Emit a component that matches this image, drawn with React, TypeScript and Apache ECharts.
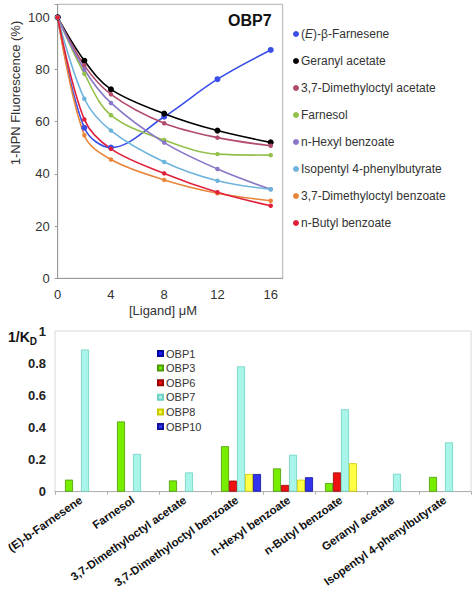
import React, { useEffect, useRef } from "react";
import * as echarts from "echarts";

const ligandX = [0, 2, 4, 8, 12, 16];
const farnesene = [100, 57.7, 50.1, 61.9, 76.3, 87.5];
const geranylAcetate = [100, 83.4, 72.4, 63.1, 56.6, 52.1];
const dmoAcetate = [100, 81.6, 70.5, 59.4, 53.9, 50.8];
const farnesol = [100, 78.4, 62.5, 53.0, 47.6, 47.2];
const hexylBenzoate = [100, 80.0, 67.2, 52.0, 41.9, 34.1];
const isopentyl = [100, 68.8, 56.6, 44.6, 37.4, 34.1];
const dmoBenzoate = [100, 54.8, 45.5, 37.7, 32.6, 29.7];
const butylBenzoate = [100, 60.9, 49.6, 40.2, 33.0, 27.8];

const ligands = [
  "(E)-b-Farnesene",
  "Farnesol",
  "3,7-Dimethyloctyl acetate",
  "3,7-Dimethyloctyl benzoate",
  "n-Hexyl benzoate",
  "n-Butyl benzoate",
  "Geranyl acetate",
  "Isopentyl 4-phenylbutyrate",
];
const obp1 = [null, null, null, null, null, null, null, null];
const obp3 = [0.075, 0.437, 0.07, 0.283, 0.145, 0.054, null, 0.092];
const obp6 = [null, null, null, 0.069, 0.042, 0.12, null, null];
const obp7 = [0.885, 0.235, 0.12, 0.78, 0.23, 0.513, 0.112, 0.307];
const obp8 = [null, null, null, 0.11, 0.075, 0.177, null, null];
const obp10 = [null, null, null, 0.11, 0.09, null, null, null];

const FONT = "'Liberation Sans', Arial, sans-serif";

export default function App() {
  const ref = useRef<HTMLDivElement>(null);
  useEffect(() => {
    if (!ref.current) return;
    const chart = echarts.init(ref.current, null, { renderer: "svg" });
    const lineDefs = [
      { name: "(E)-β-Farnesene", data: farnesene, color: "#3a4fe8", size: 6 },
      { name: "Geranyl acetate", data: geranylAcetate, color: "#000000", size: 6 },
      { name: "3,7-Dimethyloctyl acetate", data: dmoAcetate, color: "#b24a6a", size: 4.5 },
      { name: "Farnesol", data: farnesol, color: "#92c04a", size: 4.5 },
      { name: "n-Hexyl benzoate", data: hexylBenzoate, color: "#8a76c8", size: 4.5 },
      { name: "Isopentyl 4-phenylbutyrate", data: isopentyl, color: "#6cb4dc", size: 4.5 },
      { name: "3,7-Dimethyloctyl benzoate", data: dmoBenzoate, color: "#e8853a", size: 4.5 },
      { name: "n-Butyl benzoate", data: butylBenzoate, color: "#e0203a", size: 4.5 },
    ];
    const barDefs = [
      { name: "OBP1", data: obp1, color: "#1a1aff", border: "#0000a0" },
      { name: "OBP3", data: obp3, color: "#77ee00", border: "#4a9a00" },
      { name: "OBP6", data: obp6, color: "#ee1111", border: "#990000" },
      { name: "OBP7", data: obp7, color: "#aaf5ea", border: "#6fd0c0" },
      { name: "OBP8", data: obp8, color: "#ffff44", border: "#c8c800" },
      { name: "OBP10", data: obp10, color: "#3333ee", border: "#10109a" },
    ];
    const option: any = {
      animation: false,
      textStyle: { fontFamily: FONT },
      grid: [
        { left: 57.7, top: 4.3, width: 225, height: 274, show: true, borderColor: "#b0b0b0", borderWidth: 1 },
        { left: 55, top: 331, width: 416, height: 160.7, show: true, borderColor: "#d8d8d8", borderWidth: 1 },
      ],
      xAxis: [
        {
          type: "value", gridIndex: 0, min: 0, max: 16.9, interval: 4,
          splitLine: { show: false },
          axisLine: { lineStyle: { color: "#999" } },
          axisTick: { show: false },
          axisLabel: {
            color: "#333", fontSize: 13, fontFamily: FONT, margin: 10,
            formatter: (v: number) => (v % 4 === 0 ? String(v) : ""),
          },
        },
        {
          type: "category", gridIndex: 1, data: ligands,
          axisLine: { lineStyle: { color: "#b0b0b0" } },
          axisTick: { show: true, length: 3, lineStyle: { color: "#b0b0b0" } },
          axisLabel: {
            rotate: 35, interval: 0, color: "#111", fontSize: 11.5, fontWeight: "bold",
            fontFamily: FONT, margin: 7,
          },
        },
      ],
      yAxis: [
        {
          type: "value", gridIndex: 0, min: 0, max: 105, interval: 20,
          splitLine: { show: false },
          axisLine: { show: true, lineStyle: { color: "#999" } },
          axisTick: { show: true, length: 3, lineStyle: { color: "#999" } },
          axisLabel: {
            color: "#333", fontSize: 13, fontFamily: FONT, margin: 8,
            formatter: (v: number) => (v % 20 === 0 ? String(v) : ""),
          },
        },
        {
          type: "value", gridIndex: 1, min: 0, max: 1, interval: 0.2,
          splitLine: { show: false },
          axisLine: { show: false },
          axisTick: { show: false },
          axisLabel: {
            color: "#222", fontSize: 13, fontWeight: "bold", fontFamily: FONT, margin: 9,
            formatter: (v: number) => (Math.abs(v - 1) < 1e-9 ? "1" : Math.abs(v) < 1e-9 ? "0" : v.toFixed(1)),
          },
        },
      ],
      legend: [
        {
          data: lineDefs.map((d) => d.name),
          orient: "vertical", left: 288, top: 23, icon: "circle",
          itemWidth: 6, itemHeight: 6, itemGap: 15,
          textStyle: {
            color: "#333", fontSize: 12, fontFamily: FONT, padding: [0, 0, 0, -3],
            rich: { i: { fontStyle: "italic", fontSize: 12, color: "#333", fontFamily: FONT } },
          },
          formatter: (n: string) => (n === "(E)-β-Farnesene" ? "({i|E})-β-Farnesene" : n),
        },
        {
          data: barDefs.map((d) => d.name),
          orient: "vertical", left: 152, top: 343, icon: "rect",
          itemWidth: 5, itemHeight: 5, itemGap: 3.6,
          textStyle: { color: "#333", fontSize: 11, fontFamily: FONT, padding: [0, 0, 0, -2] },
        },
      ],
      graphic: [
        {
          type: "text", left: 228, top: 12,
          style: { text: "OBP7", font: `bold 16px ${FONT}`, fill: "#111" },
        },
        {
          type: "text", x: 15, y: 93, rotation: Math.PI / 2,
          style: { text: "1-NPN Fluorescence (%)", font: `13px ${FONT}`, fill: "#333", align: "center", verticalAlign: "middle" },
        },
        {
          type: "text", x: 163, y: 310,
          style: { text: "[Ligand] μM", font: `13px ${FONT}`, fill: "#333", align: "center", verticalAlign: "middle" },
        },
        {
          type: "text", x: 8, y: 337,
          style: {
            text: "1/K{s|D}", font: `bold 14px ${FONT}`, fill: "#111", verticalAlign: "middle",
            rich: { s: { fontSize: 10, fontWeight: "bold", fontFamily: FONT, fill: "#111", padding: [8, 0, 0, 0] } },
          },
        },
      ],
      series: [
        ...lineDefs.map((d) => ({
          name: d.name, type: "line", xAxisIndex: 0, yAxisIndex: 0,
          data: ligandX.map((x, i) => [x, d.data[i]]),
          smooth: 0.35, symbol: "circle", symbolSize: d.size,
          itemStyle: { color: d.color },
          lineStyle: { color: d.color, width: 1.6 },
        })),
        ...barDefs.map((d) => ({
          name: d.name, type: "bar", xAxisIndex: 1, yAxisIndex: 1,
          data: d.data, barWidth: 8, barGap: "0%",
          itemStyle: { color: d.color, borderColor: d.border, borderWidth: 0.8 },
        })),
      ],
    };
    chart.setOption(option);
    return () => chart.dispose();
  }, []);
  return (
    <div
      ref={ref}
      style={{ position: "fixed", left: 0, top: 0, width: 474, height: 600, background: "#fff" }}
    />
  );
}
